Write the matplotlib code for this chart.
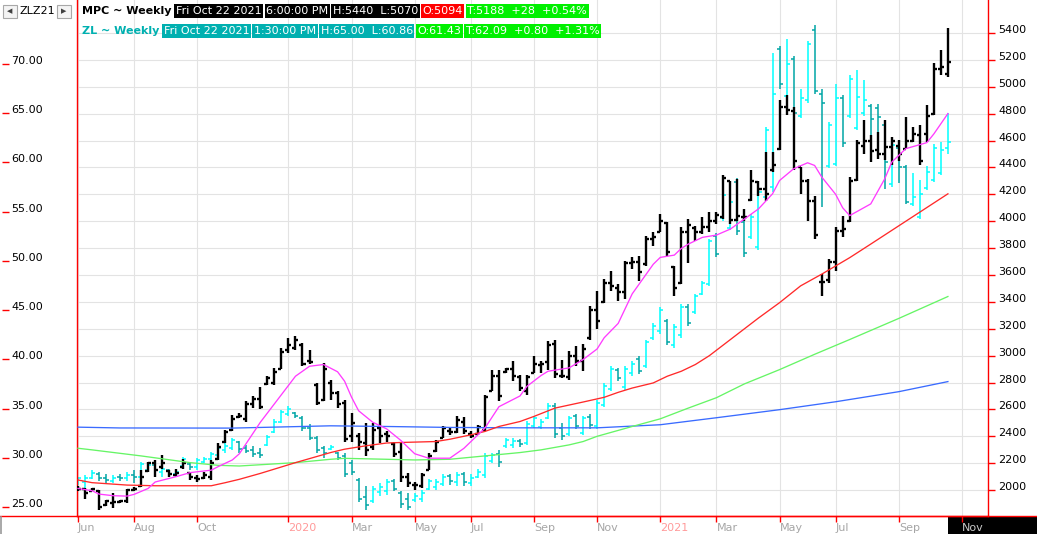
"""Weekly OHLC overlay: MPC (right scale) against ZL soybean oil (left scale)."""

import matplotlib
matplotlib.use("Agg")
import matplotlib.dates as mdates
import matplotlib.pyplot as plt
import numpy as np
import pandas as pd
from matplotlib.collections import LineCollection
from matplotlib.lines import Line2D
from matplotlib.patches import Rectangle
from matplotlib.transforms import blended_transform_factory

W, H, DPI = 1037, 534, 100

# ---------------------------------------------------------------------------
# Data
# ---------------------------------------------------------------------------
dates = pd.date_range("2019-06-07", periods=125, freq="W-FRI")

mpc_open = [
    2020, 2005, 1995, 1995, 1890, 1905, 1910, 1915, 2000, 2030,
    2140, 2200, 2170, 2140, 2110, 2170, 2130, 2090, 2090, 2100,
    2230, 2360, 2450, 2540, 2530, 2640, 2680, 2790, 2800, 2900,
    3040, 3060, 3080, 2960, 2780, 2670, 2800, 2720, 2650, 2400,
    2400, 2350, 2320, 2460, 2420, 2340, 2280, 2100, 2040, 2030,
    2150, 2290, 2390, 2440, 2430, 2510, 2420, 2420, 2450, 2740,
    2850, 2880, 2900, 2840, 2740, 2870, 2930, 2950, 3090, 2850,
    2840, 3000, 2960, 3130, 3340, 3400, 3540, 3500, 3470, 3690,
    3700, 3680, 3870, 3920, 3990, 3660, 3540, 3920, 3950, 3920,
    3960, 4000, 4030, 4300, 4010, 4030, 4160, 4290, 4240, 4380,
    4540, 4850, 4820, 4400, 4300, 4150, 3550, 3560, 3700, 3930,
    4000, 4310, 4560, 4600, 4530, 4500, 4550, 4560, 4540, 4600,
    4640, 4650, 4800, 5130, 5094]
mpc_high = [
    2030, 2012, 2015, 2000, 1925, 1975, 1925, 2005, 2025, 2150,
    2210, 2225, 2260, 2150, 2160, 2230, 2135, 2110, 2135, 2225,
    2350, 2450, 2560, 2570, 2660, 2700, 2770, 2845, 2910, 3060,
    3130, 3145, 3095, 3045, 2800, 2945, 2820, 2735, 2670, 2570,
    2425, 2500, 2500, 2600, 2440, 2361, 2349, 2125, 2062, 2125,
    2274, 2374, 2473, 2461, 2548, 2540, 2436, 2486, 2710, 2896,
    2896, 2909, 2959, 2859, 2859, 2996, 2959, 3108, 3120, 2971,
    3033, 3071, 3083, 3370, 3481, 3569, 3631, 3531, 3706, 3731,
    3743, 3892, 3917, 4054, 3992, 3668, 3955, 4017, 3967, 4029,
    4067, 4067, 4341, 4303, 4316, 4090, 4378, 4303, 4515, 4515,
    4901, 4938, 4851, 4403, 4316, 4191, 3606, 3718, 3955, 4042,
    4328, 4602, 4751, 4640, 4665, 4751, 4627, 4602, 4776, 4702,
    4714, 4864, 5175, 5275, 5440]
mpc_low = [
    1995, 1933, 1990, 1850, 1883, 1870, 1905, 1900, 1990, 2025,
    2135, 2100, 2160, 2100, 2100, 2160, 2075, 2060, 2085, 2075,
    2225, 2350, 2440, 2535, 2510, 2610, 2600, 2785, 2785, 2900,
    3020, 3045, 2920, 2935, 2635, 2660, 2670, 2610, 2360, 2360,
    2300, 2250, 2300, 2350, 2360, 2249, 2062, 2025, 2000, 2012,
    2149, 2286, 2386, 2411, 2423, 2420, 2386, 2411, 2436, 2735,
    2660, 2872, 2809, 2735, 2710, 2872, 2872, 2896, 2834, 2834,
    2822, 2921, 2884, 3120, 3195, 3394, 3481, 3407, 3419, 3643,
    3556, 3668, 3818, 3917, 3743, 3444, 3531, 3693, 3855, 3905,
    3917, 3980, 4017, 3980, 4004, 4000, 4154, 4191, 4154, 4365,
    4527, 4789, 4378, 4204, 4004, 3868, 3444, 3544, 3631, 3880,
    3992, 4303, 4503, 4440, 4465, 4453, 4415, 4450, 4540, 4590,
    4415, 4590, 4789, 5088, 5070]
mpc_close = [
    2010, 1975, 2005, 1875, 1915, 1910, 1915, 2000, 2010, 2100,
    2200, 2150, 2200, 2120, 2130, 2200, 2100, 2080, 2110, 2200,
    2320, 2430, 2530, 2550, 2640, 2680, 2620, 2830, 2880, 3030,
    3080, 3120, 2940, 2950, 2650, 2900, 2720, 2640, 2380, 2500,
    2360, 2300, 2450, 2400, 2400, 2270, 2100, 2050, 2040, 2110,
    2250, 2360, 2460, 2430, 2520, 2440, 2400, 2470, 2690, 2850,
    2700, 2900, 2850, 2760, 2840, 2940, 2940, 3080, 2860, 2850,
    3000, 2960, 3050, 3340, 3260, 3540, 3520, 3470, 3690, 3700,
    3620, 3870, 3880, 4000, 3770, 3500, 3920, 3970, 3920, 3960,
    4000, 4050, 4320, 4010, 4040, 4030, 4300, 4240, 4200, 4420,
    4850, 4830, 4450, 4300, 4150, 3900, 3550, 3700, 3930, 3940,
    4300, 4580, 4600, 4520, 4500, 4550, 4600, 4500, 4600, 4650,
    4450, 4780, 5130, 5150, 5188]

zl_open = [
    27.4, 27.5, 28.0, 28.4, 28.0, 27.6, 28.1, 27.9, 28.3, 28.1,
    28.8, 29.3, 28.6, 28.8, 28.4, 29.2, 29.4, 29.1, 29.6, 29.9,
    30.3, 30.8, 31.0, 31.6, 31.0, 30.8, 30.5, 31.3, 32.6, 33.6,
    34.5, 34.6, 34.0, 33.0, 32.0, 31.0, 30.9, 30.5, 30.2, 29.5,
    27.7, 26.0, 25.6, 26.5, 26.6, 27.6, 26.4, 25.8, 25.7, 25.8,
    26.8, 27.0, 27.3, 28.2, 27.5, 28.4, 27.4, 28.1, 28.3, 29.7,
    30.4, 31.2, 31.3, 31.7, 31.5, 33.2, 33.1, 34.0, 35.3, 33.0,
    32.4, 34.2, 32.5, 34.1, 33.2, 35.4, 37.0, 38.9, 37.2, 38.6,
    40.0, 39.3, 42.2, 42.9, 43.9, 41.5, 42.5, 45.3, 44.8, 46.6,
    47.7, 52.5, 54.4, 53.3, 58.0, 54.0, 52.4, 51.4, 56.5, 57.5,
    71.5, 66.8, 70.5, 64.7, 66.3, 73.5, 67.0, 59.6, 59.8, 66.5,
    64.7, 63.5, 65.0, 65.7, 65.5, 63.8, 57.8, 61.5, 59.5, 55.8,
    54.5, 57.4, 58.2, 58.9, 61.43]
zl_high = [
    28.1, 28.3, 28.8, 28.6, 28.4, 28.3, 28.4, 28.6, 28.8, 29.6,
    29.6, 29.6, 29.1, 28.9, 28.9, 30.1, 29.5, 30.0, 30.1, 30.6,
    31.2, 31.5, 32.0, 31.7, 31.3, 31.2, 31.0, 32.3, 33.9, 34.9,
    35.3, 34.7, 34.2, 33.4, 32.2, 31.2, 31.3, 30.6, 30.5, 29.8,
    27.9, 27.1, 27.1, 27.4, 27.8, 27.8, 26.6, 26.4, 26.4, 26.7,
    27.8, 27.8, 28.4, 28.4, 28.6, 28.6, 28.4, 28.9, 30.5, 30.5,
    30.8, 32.0, 32.0, 31.9, 33.7, 34.2, 33.9, 35.6, 35.6, 33.5,
    34.2, 34.4, 34.2, 34.4, 35.9, 37.6, 39.3, 39.1, 39.3, 39.8,
    40.3, 42.0, 43.7, 45.3, 44.1, 43.6, 45.6, 45.6, 46.6, 48.0,
    52.2, 52.8, 57.0, 56.3, 58.4, 54.3, 54.8, 57.3, 63.6, 71.1,
    71.8, 72.5, 70.8, 67.5, 72.3, 74.0, 67.5, 64.1, 68.0, 66.9,
    68.9, 69.4, 68.4, 65.9, 65.9, 64.1, 62.3, 61.8, 59.7, 58.9,
    58.2, 59.6, 61.9, 62.1, 65.0]
zl_low = [
    27.2, 26.7, 27.8, 27.6, 27.4, 27.4, 27.6, 27.6, 27.4, 27.8,
    28.6, 28.3, 28.1, 28.1, 28.1, 29.1, 28.8, 28.8, 29.5, 29.8,
    30.1, 30.5, 30.8, 30.5, 30.5, 30.1, 30.0, 31.2, 32.5, 33.5,
    34.2, 34.0, 32.7, 31.8, 30.5, 30.0, 30.8, 29.8, 28.1, 28.3,
    25.5, 24.7, 25.4, 26.1, 26.2, 26.6, 24.9, 24.7, 25.5, 25.5,
    26.7, 26.7, 27.1, 27.2, 27.1, 27.1, 27.1, 27.9, 27.9, 29.5,
    29.1, 31.0, 31.0, 31.1, 31.3, 33.0, 32.9, 33.9, 32.0, 31.8,
    32.2, 32.9, 32.3, 32.9, 32.9, 35.2, 36.8, 37.8, 36.9, 38.3,
    38.5, 39.1, 42.0, 42.6, 41.5, 41.2, 42.2, 43.4, 44.6, 46.5,
    47.5, 50.4, 54.1, 53.1, 52.6, 50.4, 52.2, 51.1, 56.2, 57.0,
    67.5, 66.5, 64.3, 64.5, 66.0, 67.0, 55.5, 59.4, 59.6, 61.6,
    64.5, 63.3, 64.7, 62.1, 63.0, 57.3, 57.5, 57.9, 55.8, 55.6,
    54.3, 57.2, 58.0, 58.7, 60.86]
zl_close = [
    27.9, 28.0, 28.5, 27.9, 27.7, 28.0, 27.9, 28.3, 28.1, 29.4,
    29.3, 28.8, 28.9, 28.4, 28.6, 29.9, 29.1, 29.8, 29.9, 30.4,
    31.0, 31.2, 31.8, 30.9, 30.7, 30.4, 30.3, 32.1, 33.6, 34.7,
    35.0, 34.2, 33.0, 32.0, 30.8, 30.5, 31.1, 30.0, 28.4, 28.6,
    25.8, 25.2, 26.8, 27.0, 27.5, 26.8, 25.3, 25.0, 26.1, 26.4,
    27.6, 27.5, 28.1, 27.6, 28.3, 27.5, 28.0, 28.6, 30.2, 30.3,
    29.6, 31.8, 31.7, 31.4, 33.4, 34.0, 33.6, 35.3, 32.4, 32.2,
    34.0, 33.2, 34.0, 33.3, 35.6, 37.3, 39.0, 38.1, 39.0, 39.5,
    38.8, 41.8, 43.4, 45.0, 41.8, 43.3, 45.3, 43.7, 46.4, 47.8,
    52.0, 50.7, 56.7, 56.0, 53.0, 50.8, 54.5, 57.0, 63.3, 67.0,
    68.0, 70.0, 65.0, 66.5, 72.0, 67.3, 66.0, 63.8, 66.5, 62.0,
    68.5, 66.6, 66.3, 64.4, 64.6, 60.0, 61.8, 59.5, 56.0, 56.5,
    56.8, 59.0, 61.5, 61.3, 62.09]

# Moving averages, sampled at bar numbers (1 = first bar), MPC units
fast_ma_bar = [1, 3, 4, 6, 8, 9, 11, 12, 15, 17, 20, 21, 23, 24, 27, 30, 32,
               34, 36, 38, 39, 40, 41, 43, 45, 47, 49, 51, 54, 56, 59, 61, 64,
               65, 67, 68, 71, 73, 75, 76, 78, 80, 83, 84, 86, 87, 88, 90, 92,
               94, 96, 98, 100, 101, 103, 105, 106, 107, 109, 110, 111, 114,
               116, 117, 119, 122, 123, 125]
fast_ma_val = [2012, 1995, 1970, 1958, 1955, 1968, 2012, 2060, 2100, 2130,
               2148, 2175, 2224, 2270, 2505, 2710, 2847, 2921, 2934, 2880,
               2810, 2690, 2590, 2505, 2455, 2370, 2270, 2237, 2237, 2310,
               2461, 2620, 2700, 2772, 2852, 2884, 2909, 2971, 3050, 3133,
               3240, 3460, 3680, 3731, 3748, 3798, 3830, 3880, 3897, 3942,
               4017, 4092, 4204, 4303, 4390, 4435, 4415, 4330, 4200, 4100,
               4042, 4129, 4316, 4440, 4540, 4585, 4650, 4801]

slow_ma_bar = [1, 3, 8, 12, 20, 22, 24, 27, 32, 37, 39, 42, 45, 47, 52, 54,
               57, 59, 61, 64, 66, 69, 73, 76, 78, 80, 83, 85, 87, 89, 91, 94,
               98, 101, 104, 107, 111, 114, 118, 121, 125]
slow_ma_val = [2075, 2055, 2037, 2032, 2032, 2055, 2080, 2124, 2204, 2279,
               2304, 2329, 2350, 2354, 2361, 2378, 2411, 2436, 2473, 2510,
               2548, 2610, 2655, 2690, 2727, 2759, 2797, 2847, 2884, 2934,
               3000, 3120, 3280, 3394, 3519, 3606, 3729, 3830, 3966, 4068,
               4204]

mid_ma_bar = [1, 3, 10, 17, 21, 24, 32, 37, 39, 45, 49, 54, 59, 64, 67, 71,
              73, 75, 80, 84, 88, 92, 96, 101, 106, 111, 118, 125]
mid_ma_val = [2311, 2299, 2254, 2204, 2184, 2179, 2204, 2229, 2236, 2229,
              2224, 2229, 2254, 2279, 2299, 2336, 2361, 2400, 2473, 2530,
              2610, 2687, 2790, 2896, 3010, 3120, 3277, 3440]

long_ma_bar = [1, 7, 23, 37, 45, 54, 64, 75, 84, 92, 101, 109, 118, 125]
long_ma_val = [2468, 2462, 2461, 2478, 2473, 2466, 2463, 2463, 2486, 2538,
               2598, 2657, 2732, 2807]

tick_dates = ["2019-06-07", "2019-08-02", "2019-10-04", "2020-01-03",
              "2020-03-06", "2020-05-08", "2020-07-03", "2020-09-04",
              "2020-11-06", "2021-01-08", "2021-03-05", "2021-05-07",
              "2021-07-02", "2021-09-03", "2021-11-05"]
tick_labels = ["Jun", "Aug", "Oct", "2020", "Mar", "May", "Jul", "Sep",
               "Nov", "2021", "Mar", "May", "Jul", "Sep", "Nov"]

mpc_ticks = list(range(2000, 5401, 200))
zl_ticks = [25, 30, 35, 40, 45, 50, 55, 60, 65, 70]

# ---------------------------------------------------------------------------
# Style
# ---------------------------------------------------------------------------
RED = "#ff0000"
GRID = "#e3e3e3"
CYAN = "#00ffff"
TEAL = "#00a5a5"
plt.rcParams["font.family"] = ["DejaVu Sans"]
plt.rcParams["font.size"] = 8


def ohlc_segments(x, o, h, l, c, tick=3.0):
    segs = []
    for xi, oi, hi, li, ci in zip(x, o, h, l, c):
        segs.append([(xi, li), (xi, hi)])
        segs.append([(xi - tick, oi), (xi, oi)])
        segs.append([(xi, ci), (xi + tick, ci)])
    return segs


fig = plt.figure(figsize=(W / DPI, H / DPI), dpi=DPI)
ax = fig.add_axes([77 / W, 18 / H, 911 / W, 516 / H])
ax_zl = ax.twinx()

x = mdates.date2num(dates)
ax.set_xlim(x[0] - 1, x[-1] + 40)
ax.set_ylim(1807, 5646)
ax_zl.set_ylim(24.09, 76.5)

# grid + axes frame
ax.set_yticks(mpc_ticks)
ax.set_xticks(mdates.date2num(pd.to_datetime(tick_dates)))
ax.set_xticklabels(tick_labels)
ax.set_axisbelow(True)
ax.grid(True, color=GRID, linewidth=0.8)
ax.spines["top"].set_visible(False)
for side in ("left", "right", "bottom"):
    ax.spines[side].set_color(RED)
    ax.spines[side].set_linewidth(1.0)
ax.yaxis.tick_right()
ax.tick_params(axis="y", direction="out", length=5, width=1, color=RED,
               labelright=False, labelleft=False)
ax.tick_params(axis="x", direction="out", length=4, width=1, color=RED,
               pad=1, labelsize=8)
for lbl, txt in zip(ax.get_xticklabels(), tick_labels):
    lbl.set_ha("left")
    lbl.set_color("#ff9a9a" if txt.isdigit() else "#a6a6a6")
ax.get_xticklabels()[-1].set_color("#c8c8c8")

for sp in ax_zl.spines.values():
    sp.set_visible(False)
ax_zl.yaxis.set_ticks_position("left")
ax_zl.spines["left"].set_position(("axes", -75 / 911))
ax_zl.set_yticks(zl_ticks)
ax_zl.tick_params(axis="y", direction="in", length=5, width=1, color=RED,
                  labelleft=False, labelright=False)

# scale labels (sit on top of their tick marks)
right_tr = blended_transform_factory(ax.transAxes, ax.transData)
for v in mpc_ticks:
    ax.text(1 + 10 / 911, v, f"{v}", transform=right_tr, ha="left",
            va="baseline", fontsize=8, color="black")
left_tr = blended_transform_factory(ax_zl.transAxes, ax_zl.transData)
for v in zl_ticks:
    ax_zl.text(-66 / 911, v, f"{v:.2f}", transform=left_tr, ha="left",
               va="baseline", fontsize=8, color="black")

# ZL bars (left scale) drawn inside the main axes so the grid stays below
zl_colors = []
for o, c in zip(zl_open, zl_close):
    zl_colors += [CYAN if c >= o else TEAL] * 3
zl_lc = LineCollection(ohlc_segments(x, zl_open, zl_high, zl_low, zl_close),
                       colors=zl_colors, linewidths=1.1, zorder=2)
zl_lc.set_transform(ax_zl.transData)
ax.add_collection(zl_lc, autolim=False)

# MPC bars (right scale)
mpc_lc = LineCollection(ohlc_segments(x, mpc_open, mpc_high, mpc_low, mpc_close),
                        colors="black", linewidths=1.7, zorder=3)
ax.add_collection(mpc_lc, autolim=False)

# moving averages
for bars, vals, col in [(long_ma_bar, long_ma_val, "#3a6bff"),
                        (mid_ma_bar, mid_ma_val, "#66f566"),
                        (slow_ma_bar, slow_ma_val, "#ff2a2a"),
                        (fast_ma_bar, fast_ma_val, "#ff3cff")]:
    ax.plot(x[np.array(bars) - 1], vals, color=col, linewidth=0.95, zorder=4)

# ---------------------------------------------------------------------------
# Header rows
# ---------------------------------------------------------------------------
renderer = fig.canvas.get_renderer()


def header_row(y_px, items, x_px=82):
    for label, fg, bg, bold in items:
        kw = dict(color=fg, fontsize=8, ha="left", va="center",
                  fontweight="bold" if bold else "normal")
        if bg:
            kw["bbox"] = dict(boxstyle="square,pad=0.14", fc=bg, ec="none")
        t = fig.text(x_px / W, 1 - y_px / H, label, **kw)
        x_px = t.get_window_extent(renderer).x1 + 4.5


header_row(11, [("MPC ~ Weekly", "black", None, True),
                ("Fri Oct 22 2021", "white", "black", False),
                ("6:00:00 PM", "white", "black", False),
                ("H:5440  L:5070", "white", "black", False),
                ("O:5094", "white", "#ff0000", False),
                ("T:5188  +28  +0.54%", "white", "#00f000", False)])
header_row(31, [("ZL ~ Weekly", "#00b0b0", None, True),
                ("Fri Oct 22 2021", "white", "#00b0b0", False),
                ("1:30:00 PM", "white", "#00b0b0", False),
                ("H:65.00  L:60.86", "white", "#00b0b0", False),
                ("O:61.43", "white", "#00f000", False),
                ("T:62.09  +0.80  +1.31%", "white", "#00f000", False)])

# symbol widget in the top-left corner
for bx, arrow in [(3, "\u25c0"), (57, "\u25b6")]:
    fig.add_artist(Rectangle((bx / W, 1 - 18 / H), 14 / W, 13 / H,
                             transform=fig.transFigure, fc="#f4f4f4",
                             ec="#a8a8a8", lw=0.8))
    fig.text((bx + 7) / W, 1 - 11.5 / H, arrow, fontsize=5, color="#404040",
             ha="center", va="center")
fig.text(20 / W, 1 - 11.5 / H, "ZLZ21", fontsize=8, color="black",
         ha="left", va="center")

# bottom strip: red base line, current-period block, edge
fig.add_artist(Rectangle((948 / W, 0), (W - 948) / W, 17.5 / H,
                         transform=fig.transFigure, fc="black", ec="none",
                         zorder=-1))
fig.add_artist(Line2D([0, 1], [18 / H, 18 / H], transform=fig.transFigure,
                      color=RED, linewidth=1.0))
fig.add_artist(Line2D([0.6 / W, 0.6 / W], [0, 17 / H],
                      transform=fig.transFigure, color="#9a9a9a",
                      linewidth=1.2))

fig.savefig("out.png", dpi=DPI)
